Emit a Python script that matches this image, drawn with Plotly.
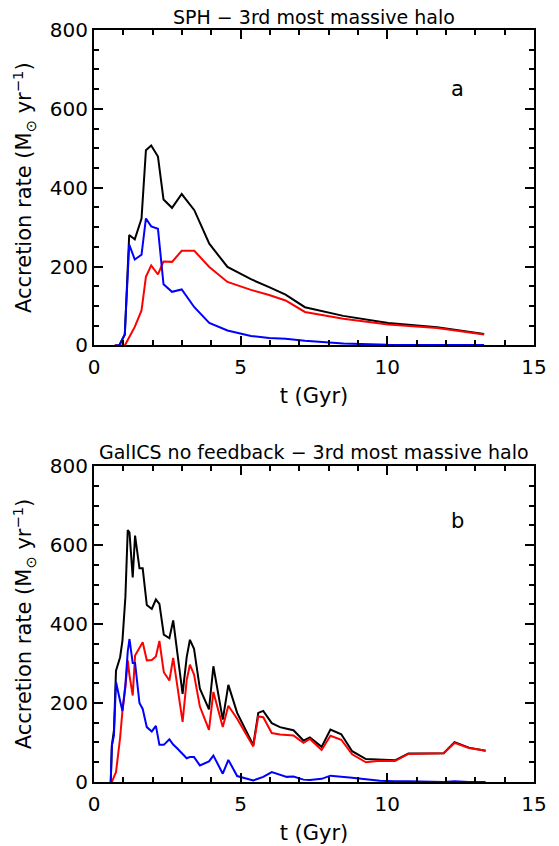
import plotly.graph_objects as go
from plotly.subplots import make_subplots

# panel a: SPH
t_a = [0.71, 0.86, 1.05, 1.20, 1.39, 1.62, 1.77, 1.95, 2.18, 2.37, 2.66, 2.99,
       3.42, 3.93, 4.55, 5.35, 5.97, 6.53, 7.19, 8.5, 10.03, 11.7, 13.3]
total_a = [0, 0, 28, 280, 269, 322, 495, 507, 479, 370, 349, 384,
           343, 258, 199, 168, 148, 129, 97, 75, 57, 46, 29]
hot_a = [0, 0, 0, 21, 47, 89, 174, 203, 180, 213, 212, 240,
         240, 199, 161, 141, 128, 114, 85, 68, 53, 44, 28]
cold_a = [0, 0, 28, 256, 218, 230, 322, 302, 296, 155, 136, 142,
          97, 57, 38, 24, 19, 17, 12, 5, 2, 1, 1]

# panel b: GalICS no feedback
t_b = [0.57, 0.61, 0.68, 0.75, 0.89, 0.97, 1.07, 1.15, 1.21, 1.32, 1.40, 1.55,
       1.66, 1.80, 1.97, 2.11, 2.23, 2.38, 2.57, 2.70, 2.85, 3.02, 3.16, 3.27,
       3.41, 3.61, 3.92, 4.07, 4.39, 4.58, 4.88, 5.43, 5.60, 5.77, 6.06, 6.34,
       6.57, 6.80, 7.14, 7.36, 7.76, 8.06, 8.43, 8.80, 9.27, 9.75, 10.26, 10.72,
       11.92, 12.29, 12.78, 13.35]
total_b = [0, 93, 131, 282, 316, 358, 468, 638, 632, 518, 624, 541,
           541, 448, 438, 462, 451, 373, 364, 409, 322, 223, 316, 360,
           337, 236, 184, 293, 158, 246, 175, 93, 175, 180, 149, 139,
           135, 131, 105, 113, 89, 133, 121, 78, 58, 56, 55, 72,
           73, 101, 87, 79]
hot_b = [0, 0, 13, 25, 112, 180, 240, 308, 270, 219, 320, 342,
         354, 308, 309, 318, 357, 278, 257, 314, 238, 152, 258, 297,
         272, 191, 132, 228, 139, 193, 160, 90, 166, 164, 124, 120,
         119, 118, 99, 109, 81, 117, 107, 70, 50, 54, 53, 71,
         73, 99, 86, 79]
cold_b = [0, 93, 118, 253, 205, 180, 246, 330, 362, 301, 301, 200,
          185, 139, 128, 142, 94, 94, 108, 95, 84, 70, 60, 63,
          63, 42, 52, 67, 21, 56, 15, 4, 8, 13, 25, 19,
          13, 14, 6, 5, 8, 16, 14, 11, 7, 3, 2, 2,
          0, 2, 0, 0]

font = "DejaVu Sans"

fig = make_subplots(rows=2, cols=1, vertical_spacing=0.16)

for row, t, tot, hot, cold in [(1, t_a, total_a, hot_a, cold_a),
                               (2, t_b, total_b, hot_b, cold_b)]:
    fig.add_trace(go.Scatter(x=t, y=tot, mode="lines",
                             line=dict(color="black", width=2)), row=row, col=1)
    fig.add_trace(go.Scatter(x=t, y=hot, mode="lines",
                             line=dict(color="#ff0000", width=2)), row=row, col=1)
    fig.add_trace(go.Scatter(x=t, y=cold, mode="lines",
                             line=dict(color="#0000ff", width=2)), row=row, col=1)

axis_style = dict(
    showline=True, linecolor="black", linewidth=2, mirror="ticks",
    ticks="inside", ticklen=9, tickwidth=1.5, tickcolor="black",
    showgrid=False, zeroline=False, automargin=False,
    tickfont=dict(family=font, size=20, color="black"),
)

fig.update_xaxes(range=[0, 15], dtick=5, tick0=0, ticklabelstandoff=3,
                 minor=dict(dtick=1, ticks="inside", ticklen=5, tickwidth=1.5, tickcolor="black"),
                 title=dict(text="t (Gyr)", font=dict(family=font, size=21, color="black"), standoff=10),
                 **axis_style)
fig.update_yaxes(range=[0, 800], dtick=200, tick0=0,
                 minor=dict(dtick=50, ticks="inside", ticklen=5, tickwidth=1.5, tickcolor="black"),
                 title=dict(text="Accretion rate (M<sub>⊙</sub> yr<sup>−1</sup>)",
                            font=dict(family=font, size=21, color="black"), standoff=12),
                 **axis_style)

fig.update_layout(
    width=559, height=846,
    margin=dict(l=94, r=25, t=30, b=64),
    plot_bgcolor="white", paper_bgcolor="white",
    showlegend=False,
)
fig.update_layout(
    yaxis=dict(domain=[0.5805, 1.0]),
    yaxis2=dict(domain=[0.0, 0.4202]),
)

fig.add_annotation(text="SPH − 3rd most massive halo", xref="paper", yref="paper",
                   x=0.5, y=1.0, yshift=0, xanchor="center", yanchor="bottom", showarrow=False,
                   font=dict(family=font, size=19, color="black"))
fig.add_annotation(text="GalICS no feedback − 3rd most massive halo", xref="paper", yref="paper",
                   x=0.5, y=0.4202, yshift=1, xanchor="center", yanchor="bottom", showarrow=False,
                   font=dict(family=font, size=19, color="black"))
fig.add_annotation(text="a", x=12.4, y=650, xref="x", yref="y", showarrow=False,
                   font=dict(family=font, size=21, color="black"))
fig.add_annotation(text="b", x=12.4, y=660, xref="x2", yref="y2", showarrow=False,
                   font=dict(family=font, size=21, color="black"))

# drop the default body margin so the figure fills the window
fig.write_html("out.html", config={"displayModeBar": False},
               post_script="document.body.style.margin='0';")
